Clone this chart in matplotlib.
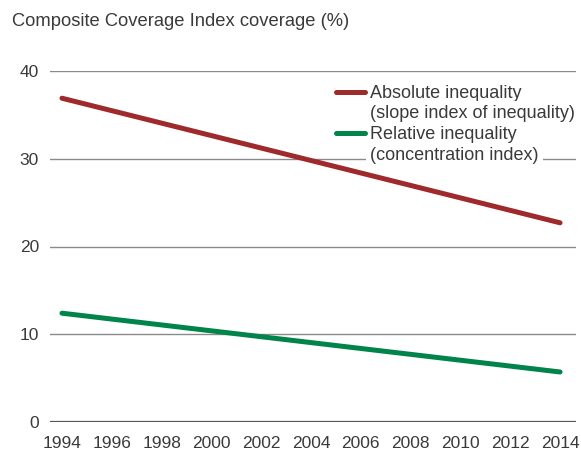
import numpy as np
import matplotlib
matplotlib.use('Agg')
import matplotlib.pyplot as plt

years = [1994, 2014]
absolute = [36.9, 22.7]
relative = [12.4, 5.7]
xticks = list(range(1994, 2015, 2))
yticks = [0, 10, 20, 30, 40]
labels = ['Absolute inequality\n(slope index of inequality)',
          'Relative inequality\n(concentration index)']

red = '#9e2a2b'
green = '#00844a'
txt = '#3a3a3a'

plt.rcParams['font.family'] = ['Liberation Sans', 'DejaVu Sans']

fig = plt.figure(figsize=(5.81, 4.55), dpi=100)
ax = fig.add_axes([50/581, 1-422/455, 526/581, 351/455])

for y in yticks[1:]:
    ax.axhline(y, color='#8a8a8a', lw=1.0, zorder=1)
ax.axhline(0, color='#555555', lw=1.6, zorder=1)

ax.plot(years, absolute, color=red, lw=3.6, solid_capstyle='round', zorder=3)
ax.plot(years, relative, color=green, lw=3.6, solid_capstyle='round', zorder=3)

ax.set_xlim(1993.52, 2014.64)
ax.set_ylim(0, 40)
ax.set_xticks(xticks)
ax.set_yticks(yticks)
ax.tick_params(length=0, labelsize=12.5, colors=txt)
ax.tick_params(axis='x', pad=10)
ax.tick_params(axis='y', pad=8)
for s in ax.spines.values():
    s.set_visible(False)

# legend drawn by hand: handle sits on first text line, each line has a
# white background that breaks the gridline behind it
tr = ax.transAxes
step = 20.7
k = 0
for lab, col in zip(labels, [red, green]):
    yline = (422 - 92 - k * step) / 351
    ax.plot([(336-50)/526, (365-50)/526], [yline, yline], transform=tr,
            color=col, lw=3.6, solid_capstyle='round', zorder=5)
    for part in lab.split('\n'):
        ybase = (422 - 97.7 - k * step) / 351
        ax.text((370-50)/526, ybase, part, transform=tr, ha='left',
                va='baseline', fontsize=13, color=txt, zorder=4,
                bbox=dict(facecolor='white', edgecolor='none', pad=3))
        k += 1

fig.text(12/581, 1-22/455, 'Composite Coverage Index coverage (%)',
         ha='left', va='center', fontsize=13.2, color=txt)

fig.savefig('out.png', dpi=100)
